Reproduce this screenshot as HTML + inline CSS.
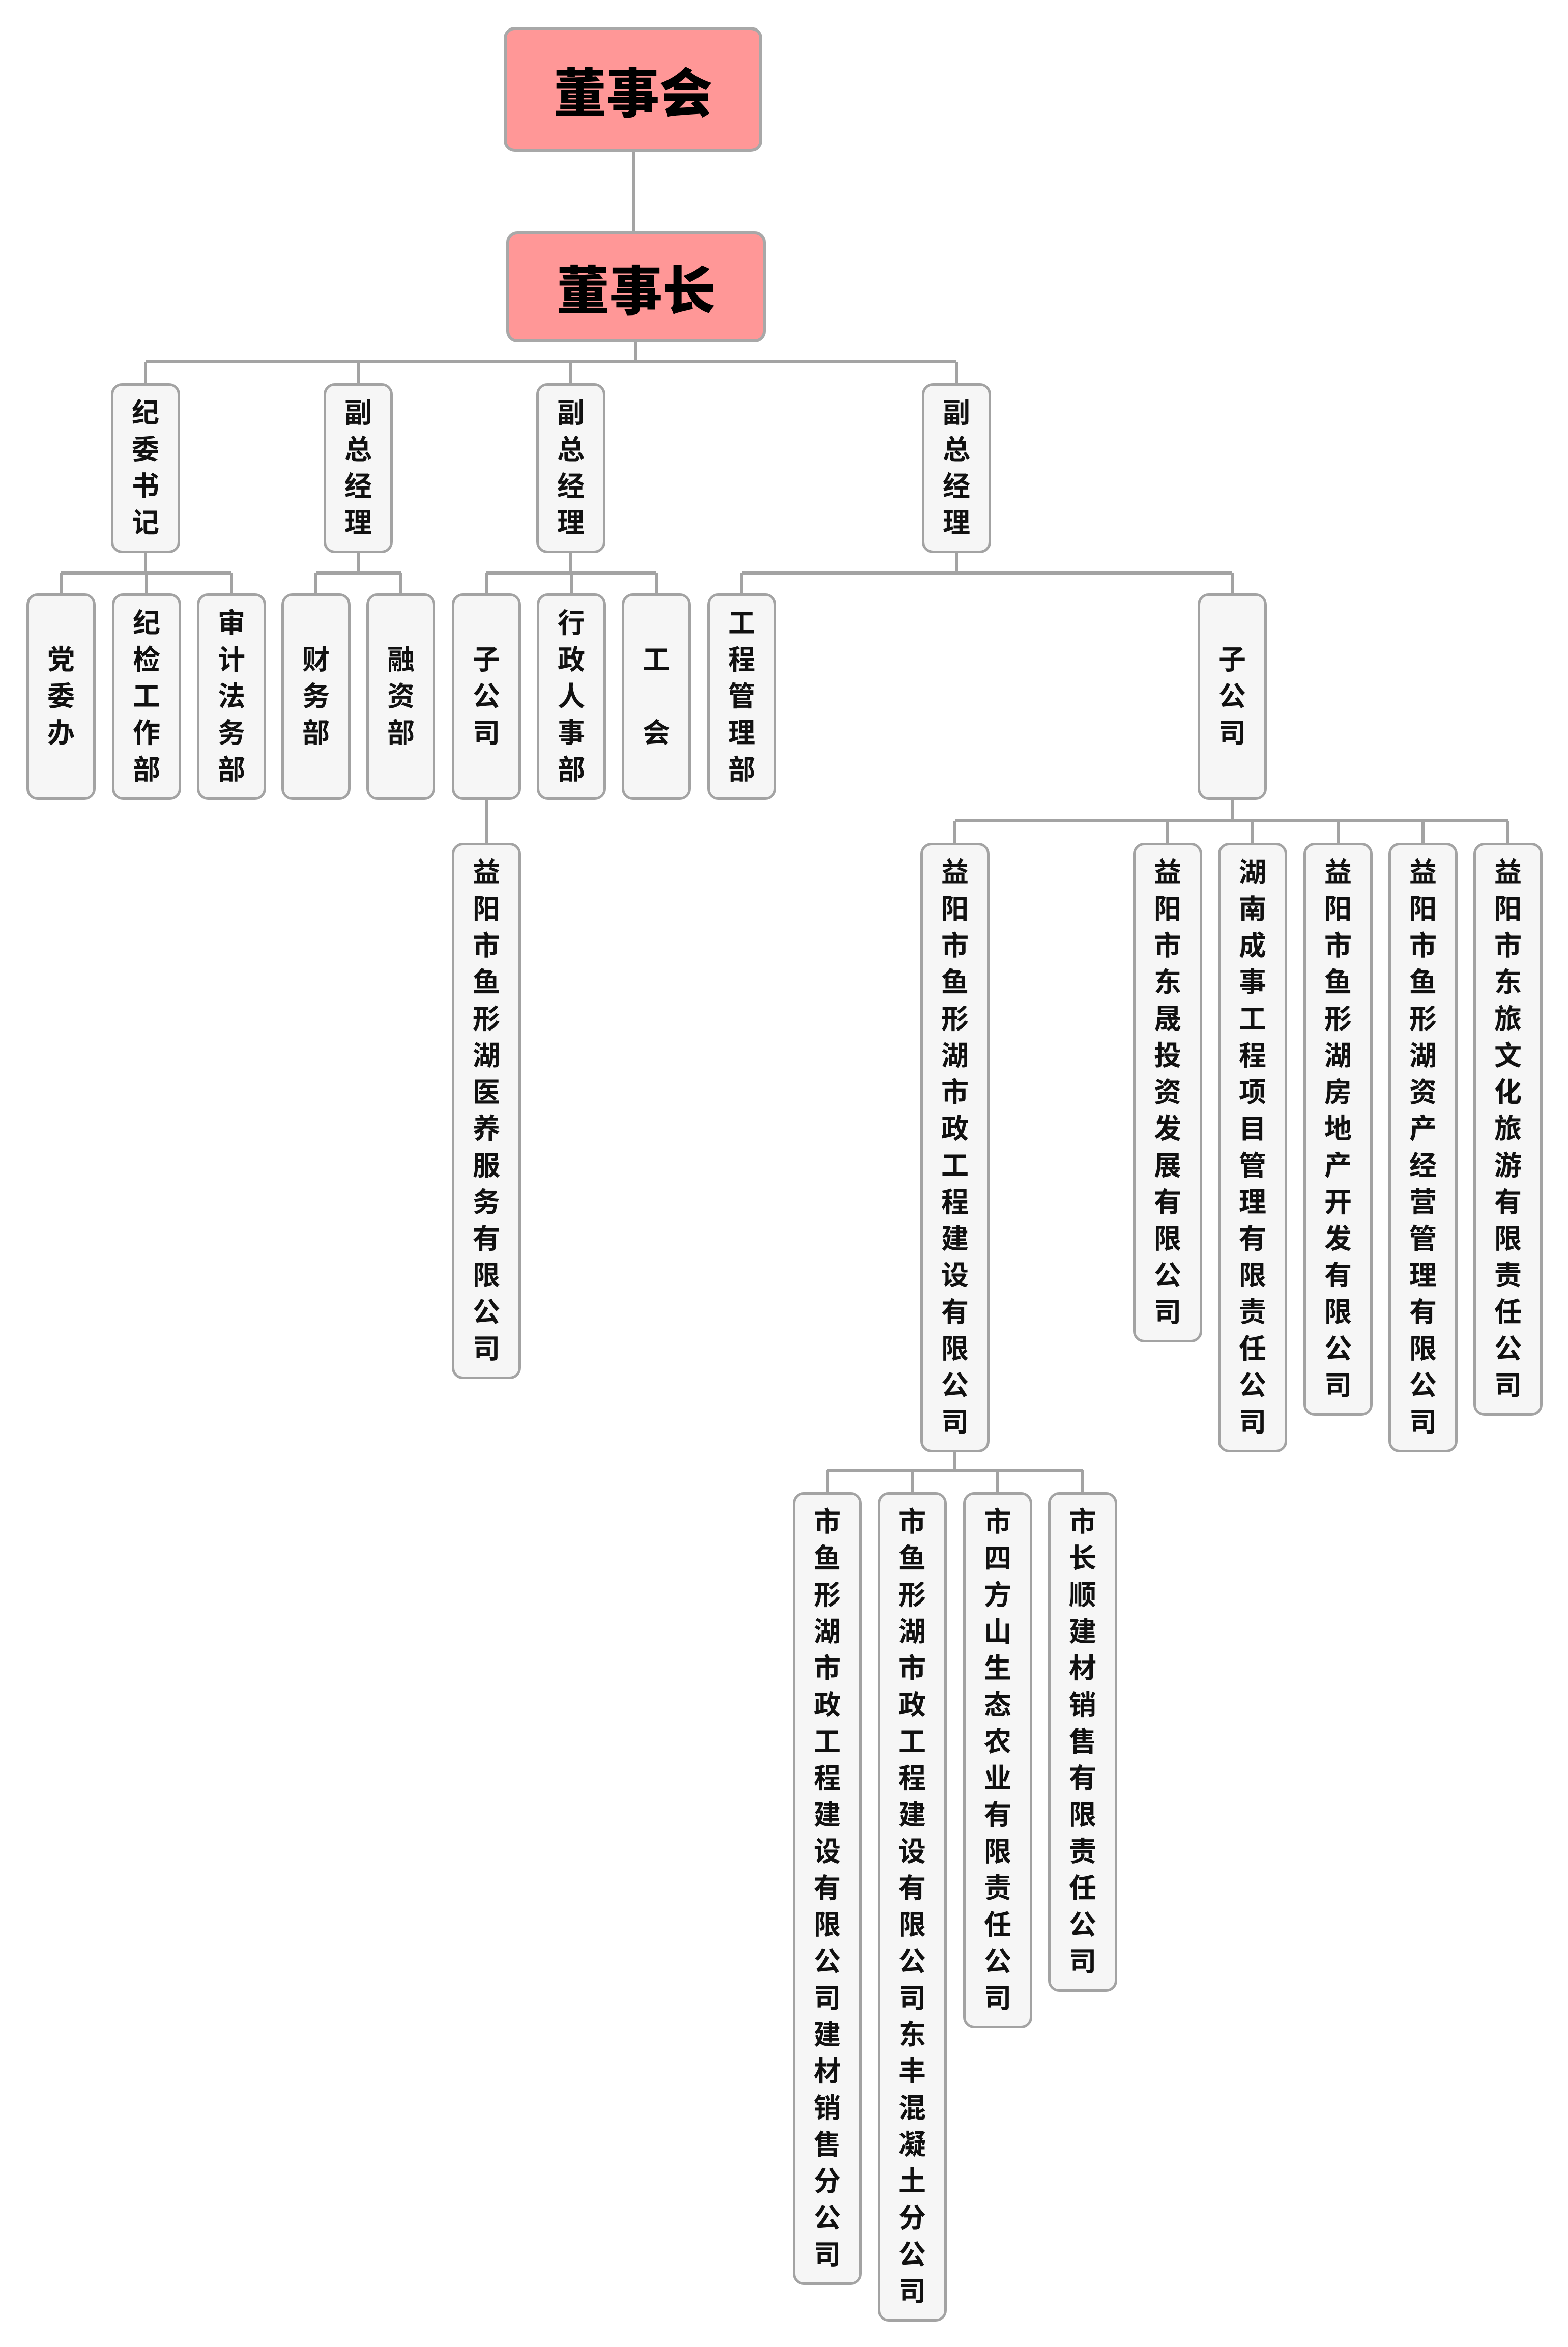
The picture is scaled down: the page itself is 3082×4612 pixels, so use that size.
<!DOCTYPE html>
<html><head><meta charset="utf-8">
<style>
html,body{margin:0;padding:0;background:#fff;}
body{width:3082px;height:4612px;position:relative;overflow:hidden;font-family:"Liberation Sans","Noto Sans CJK SC",sans-serif;}
.b{position:absolute;box-sizing:border-box;width:136px;border:5px solid #a3a3a3;border-radius:22px;background:#f6f6f6;display:flex;align-items:center;justify-content:center;}
.b span{display:block;width:60px;font-size:54px;line-height:72px;font-weight:bold;text-align:center;color:#111;word-break:break-all;}
.t{position:absolute;box-sizing:border-box;border:6px solid #a8a8a8;border-radius:22px;background:#ff9797;display:flex;align-items:center;justify-content:center;font-size:104px;font-weight:900;color:#000;font-family:"Noto Sans CJK SC",sans-serif;}
svg{position:absolute;left:0;top:0;}
</style></head><body>
<svg width="3082" height="4612" stroke="#a3a3a3" stroke-width="6" fill="none">
<path d="M1245 298V454 M1250 673V711 M286 711H1880 M286 711V753 M704 711V753 M1122 711V753 M1880 711V753"/>
<path d="M286 1087V1126 M704 1087V1126 M1122 1087V1126 M1880 1087V1126 M120 1126H455 M621 1126H788 M956 1126H1290 M1458 1126H2422"/>
<path d="M120 1126V1166 M288 1126V1166 M455 1126V1166 M621 1126V1166 M788 1126V1166 M956 1126V1166 M1123 1126V1166 M1290 1126V1166 M1458 1126V1166 M2422 1126V1166"/>
<path d="M956 1572V1656 M2422 1572V1613 M1877 1613H2964 M1877 1613V1656 M2295 1613V1656 M2462 1613V1656 M2630 1613V1656 M2797 1613V1656 M2964 1613V1656"/>
<path d="M1877 2854V2889 M1626 2889H2128 M1626 2889V2932 M1793 2889V2932 M1961 2889V2932 M2128 2889V2932"/>
</svg>

<div class="t" style="left:990px;top:53px;width:508px;height:245px;">董事会</div>
<div class="t" style="left:995px;top:454px;width:510px;height:219px;">董事长</div>

<div class="b" style="left:218px;top:753px;height:334px;"><span>纪委书记</span></div>
<div class="b" style="left:636px;top:753px;height:334px;"><span>副总经理</span></div>
<div class="b" style="left:1054px;top:753px;height:334px;"><span>副总经理</span></div>
<div class="b" style="left:1812px;top:753px;height:334px;"><span>副总经理</span></div>

<div class="b" style="left:52px;top:1166px;height:406px;"><span>党委办</span></div>
<div class="b" style="left:220px;top:1166px;height:406px;"><span>纪检工作部</span></div>
<div class="b" style="left:387px;top:1166px;height:406px;"><span>审计法务部</span></div>
<div class="b" style="left:553px;top:1166px;height:406px;"><span>财务部</span></div>
<div class="b" style="left:720px;top:1166px;height:406px;"><span>融资部</span></div>
<div class="b" style="left:888px;top:1166px;height:406px;"><span>子公司</span></div>
<div class="b" style="left:1055px;top:1166px;height:406px;"><span>行政人事部</span></div>
<div class="b" style="left:1222px;top:1166px;height:406px;"><span>工<br><br>会</span></div>
<div class="b" style="left:1390px;top:1166px;height:406px;"><span>工程管理部</span></div>
<div class="b" style="left:2354px;top:1166px;height:406px;"><span>子公司</span></div>

<div class="b" style="left:888px;top:1656px;height:1054px;"><span>益阳市鱼形湖医养服务有限公司</span></div>
<div class="b" style="left:1809px;top:1656px;height:1198px;"><span>益阳市鱼形湖市政工程建设有限公司</span></div>
<div class="b" style="left:2227px;top:1656px;height:982px;"><span>益阳市东晟投资发展有限公司</span></div>
<div class="b" style="left:2394px;top:1656px;height:1198px;"><span>湖南成事工程项目管理有限责任公司</span></div>
<div class="b" style="left:2562px;top:1656px;height:1126px;"><span>益阳市鱼形湖房地产开发有限公司</span></div>
<div class="b" style="left:2729px;top:1656px;height:1198px;"><span>益阳市鱼形湖资产经营管理有限公司</span></div>
<div class="b" style="left:2896px;top:1656px;height:1126px;"><span>益阳市东旅文化旅游有限责任公司</span></div>

<div class="b" style="left:1558px;top:2932px;height:1558px;"><span>市鱼形湖市政工程建设有限公司建材销售分公司</span></div>
<div class="b" style="left:1725px;top:2932px;height:1630px;"><span>市鱼形湖市政工程建设有限公司东丰混凝土分公司</span></div>
<div class="b" style="left:1893px;top:2932px;height:1054px;"><span>市四方山生态农业有限责任公司</span></div>
<div class="b" style="left:2060px;top:2932px;height:982px;"><span>市长顺建材销售有限责任公司</span></div>
</body></html>
